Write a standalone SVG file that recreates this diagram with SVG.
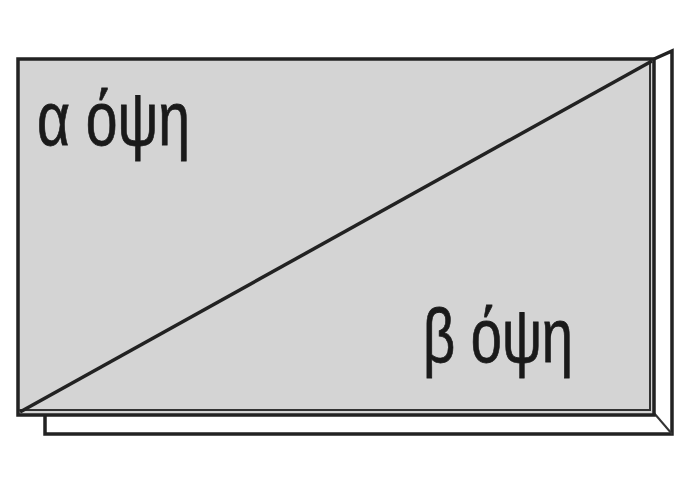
<svg xmlns="http://www.w3.org/2000/svg" width="700" height="500" viewBox="0 0 700 500">
<style>
.ln{fill:none;stroke:#222;stroke-width:3.5;stroke-linejoin:miter}
.thin{fill:none;stroke:#333;stroke-width:2}
.lbl{font-family:"Liberation Sans","DejaVu Sans",sans-serif;font-size:76px;fill:#1a1a1a;stroke:#1a1a1a;stroke-width:0.8}
</style>
<rect width="700" height="500" fill="#ffffff"/>
<g id="frame">
<polygon points="654,59 672,51 672,434 45,434 45,415 654,415" fill="#ffffff"/>
<path class="ln" d="M654,59 L672,51 L672,434 L45,434 L45,415"/>
<path class="thin" d="M654,413 L672,434"/>
</g>
<g id="panel">
<rect x="18" y="59" width="636" height="356" class="ln" style="fill:#d4d4d4"/>
<path class="thin" d="M650,60 L650,410 L19,410"/>
</g>
<g id="connectors">
<line class="ln" x1="20" y1="412" x2="652" y2="61"/>
</g>
<g id="label-a">
<text class="lbl" x="37" y="145" textLength="153" lengthAdjust="spacingAndGlyphs">α όψη</text>
</g>
<g id="label-b">
<text class="lbl" x="423" y="362" textLength="150" lengthAdjust="spacingAndGlyphs">β όψη</text>
</g>
</svg>
